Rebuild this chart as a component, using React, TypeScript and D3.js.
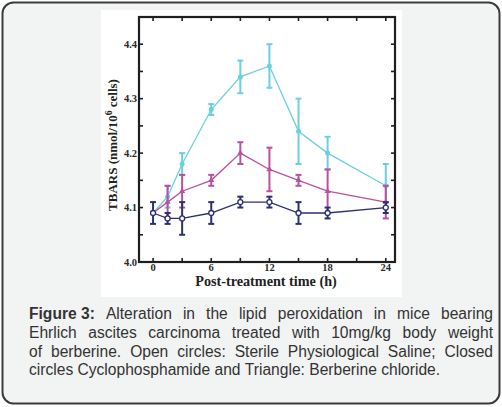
import { useMemo } from "react";
import * as d3 from "d3";

// Hours after treatment
const hours = [0, 1.5, 3, 6, 9, 12, 15, 18, 24];

// TBARS (nmol/10^6 cells), mean and error
const cyclo = [4.09, 4.12, 4.18, 4.28, 4.34, 4.36, 4.24, 4.2, 4.14];
const cycloErr = [0, 0.02, 0.02, 0.01, 0.03, 0.04, 0.06, 0.03, 0.04];
const berb = [4.09, 4.11, 4.13, 4.15, 4.2, 4.17, 4.15, 4.13, 4.11];
const berbErr = [0, 0.03, 0.03, 0.01, 0.02, 0.04, 0.01, 0.04, 0.03];
const saline = [4.09, 4.08, 4.08, 4.09, 4.11, 4.11, 4.09, 4.09, 4.1];
const salineErr = [0.02, 0.01, 0.03, 0.02, 0.01, 0.01, 0.02, 0.01, 0.01];

const yLabels = [4.0, 4.1, 4.2, 4.3, 4.4];
const xLabels = [0, 6, 12, 18, 24];

const captionLines = [
  ["Figure 3:", "Alteration in the lipid peroxidation in mice bearing"],
  ["", "Ehrlich ascites carcinoma treated with 10mg/kg body weight"],
  ["", "of berberine. Open circles: Sterile Physiological Saline; Closed"],
  ["", "circles Cyclophosphamide and Triangle: Berberine chloride."],
];

const W = 502;
const H = 407;
const PLOT = { left: 139, right: 395, top: 17, bottom: 262 };
const SERIF = "'Liberation Serif', 'Times New Roman', serif";
const SANS = "'Liberation Sans', Arial, sans-serif";
const CAP_FONT = 15.6;
const CAP_LEFT = 29;
const CAP_RIGHT = 493;

interface Pt {
  h: number;
  v: number;
  e: number;
}

function zip(vals: number[], errs: number[]): Pt[] {
  return hours.map((h, i) => ({ h, v: vals[i], e: errs[i] }));
}

// lay out caption words, justified except for the last line
function layoutCaption() {
  const ctx = document.createElement("canvas").getContext("2d")!;
  const measure = (t: string, bold: boolean) => {
    ctx.font = `${bold ? "bold " : ""}${CAP_FONT}px ${SANS}`;
    return ctx.measureText(t).width;
  };
  return captionLines.map(([boldPart, rest], li) => {
    const words: { t: string; bold: boolean; w: number }[] = [];
    if (boldPart) words.push({ t: boldPart, bold: true, w: measure(boldPart, true) });
    rest.split(" ").forEach((t) => words.push({ t, bold: false, w: measure(t, false) }));
    const total = d3.sum(words, (d) => d.w);
    const last = li === captionLines.length - 1;
    const gap = last
      ? measure(" ", false)
      : (CAP_RIGHT - CAP_LEFT - total) / (words.length - 1);
    let x = CAP_LEFT;
    return words.map((w) => {
      const out = { ...w, x };
      x += w.w + gap;
      return out;
    });
  });
}

export default function App() {
  const x = d3.scaleLinear().domain([-1.45, 24.95]).range([PLOT.left, PLOT.right]);
  const y = d3.scaleLinear().domain([4.0, 4.45]).range([PLOT.bottom, PLOT.top]);

  const line = d3
    .line<Pt>()
    .x((d) => x(d.h))
    .y((d) => y(d.v));

  const series = [
    { key: "cyclo", data: zip(cyclo, cycloErr), color: "#6ccfe0", marker: "dot" },
    { key: "berb", data: zip(berb, berbErr), color: "#b9519f", marker: "tri" },
    { key: "saline", data: zip(saline, salineErr), color: "#2d2f74", marker: "open" },
  ];

  const caption = useMemo(layoutCaption, []);
  const yMinor = d3.range(4.05, 4.45, 0.05);
  const xMinor = d3.range(0, 25, 3);
  const tri = d3.symbol().type(d3.symbolTriangle).size(16)();

  return (
    <svg
      width={W}
      height={H}
      style={{ position: "absolute", left: 0, top: 0, display: "block" }}
    >
      <rect x={0} y={0} width={W} height={H} fill="#ffffff" />
      <rect
        x={2.5}
        y={2.5}
        width={W - 5}
        height={H - 6}
        rx={11}
        fill="#f2f3f3"
        stroke="#3c3c3c"
        strokeWidth={2}
      />
      <rect x={101} y={10} width={301} height={287} fill="#ffffff" />

      {/* axis ticks on all four sides */}
      <g stroke="#1e1e1e" strokeWidth={1.6}>
        {yMinor.map((v) => (
          <g key={`y${v}`}>
            <line x1={PLOT.left} x2={PLOT.left + 4} y1={y(v)} y2={y(v)} />
            <line x1={PLOT.right - 4} x2={PLOT.right} y1={y(v)} y2={y(v)} />
          </g>
        ))}
        {xMinor.map((h) => (
          <g key={`x${h}`}>
            <line x1={x(h)} x2={x(h)} y1={PLOT.bottom} y2={PLOT.bottom - 4} />
            <line x1={x(h)} x2={x(h)} y1={PLOT.top} y2={PLOT.top + 4} />
          </g>
        ))}
      </g>
      <rect
        x={PLOT.left}
        y={PLOT.top}
        width={PLOT.right - PLOT.left}
        height={PLOT.bottom - PLOT.top}
        fill="none"
        stroke="#1e1e1e"
        strokeWidth={2.2}
      />

      <g fontFamily={SERIF} fontWeight="bold" fontSize={10.5} fill="#2a2a2a">
        {yLabels.map((v) => (
          <text key={v} x={PLOT.left - 2} y={y(v)} dy="0.35em" textAnchor="end">
            {v.toFixed(1)}
          </text>
        ))}
        {xLabels.map((h) => (
          <text key={h} x={x(h)} y={PLOT.bottom + 8.5} textAnchor="middle">
            {h}
          </text>
        ))}
      </g>
      <text
        x={266}
        y={286}
        textAnchor="middle"
        fontFamily={SERIF}
        fontWeight="bold"
        fontSize={14.2}
        fill="#222"
      >
        Post-treatment time (h)
      </text>
      <text
        transform="translate(117,145) rotate(-90)"
        textAnchor="middle"
        fontFamily={SERIF}
        fontWeight="bold"
        fontSize={13}
        fill="#222"
      >
        TBARS (nmol/10
        <tspan dy={-5} fontSize={9.5}>6</tspan>
        <tspan dy={5}> cells)</tspan>
      </text>

      {series.map((s) => (
        <g key={s.key}>
          <path d={line(s.data)!} fill="none" stroke={s.color} strokeWidth={1.3} />
          <g stroke={s.color} strokeWidth={2}>
            {s.data
              .filter((d) => d.e > 0)
              .map((d) => (
                <g key={d.h}>
                  <line x1={x(d.h)} x2={x(d.h)} y1={y(d.v - d.e)} y2={y(d.v + d.e)} />
                  <line x1={x(d.h) - 3} x2={x(d.h) + 3} y1={y(d.v - d.e)} y2={y(d.v - d.e)} />
                  <line x1={x(d.h) - 3} x2={x(d.h) + 3} y1={y(d.v + d.e)} y2={y(d.v + d.e)} />
                </g>
              ))}
          </g>
          {s.data.map((d) =>
            s.marker === "tri" ? (
              <path
                key={d.h}
                d={tri!}
                transform={`translate(${x(d.h)},${y(d.v)})`}
                fill={s.color}
              />
            ) : (
              <circle
                key={d.h}
                cx={x(d.h)}
                cy={y(d.v)}
                r={2.5}
                fill={s.marker === "open" ? "#ffffff" : s.color}
                stroke={s.color}
                strokeWidth={s.marker === "open" ? 1.3 : 0}
              />
            ),
          )}
        </g>
      ))}

      <g fontFamily={SANS} fontSize={CAP_FONT} fill="#333333">
        {caption.map((words, li) =>
          words.map((w, wi) => (
            <text
              key={`${li}-${wi}`}
              x={w.x}
              y={319 + li * 18.8}
              fontWeight={w.bold ? "bold" : "normal"}
            >
              {w.t}
            </text>
          )),
        )}
      </g>
    </svg>
  );
}
